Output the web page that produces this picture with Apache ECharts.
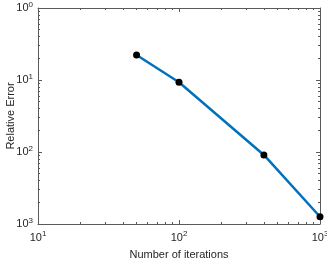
<!DOCTYPE html>
<html><head><meta charset="utf-8">
<script src="https://cdn.jsdelivr.net/npm/echarts@6/dist/echarts.min.js"></script>
<style>html,body{margin:0;padding:0;background:#fff}#c{width:327px;height:261px}</style>
</head><body><div id="c"></div>
<script>
const iterations = [50, 100, 400, 1000];
const relErrors = [0.222, 0.093, 0.0091, 0.00126];
const xMajorTicks = [10, 100, 1000];
const xMinorTicks = [20,30,40,50,60,70,80,90,200,300,400,500,600,700,800,900];
const yMajorTicks = [0.001, 0.01, 0.1, 1];
const yMinorTicks = [0.002,0.003,0.004,0.005,0.006,0.007,0.008,0.009,0.02,0.03,0.04,0.05,0.06,0.07,0.08,0.09,0.2,0.3,0.4,0.5,0.6,0.7,0.8,0.9];
const xTickLabels = {10:'1', 100:'2', 1000:'3'};
const yTickLabels = {1:'0', 0.1:'1', 0.01:'2', 0.001:'3'};
const xName = 'Number of iterations';
const yName = 'Relative Error';

const FONT = 'Liberation Sans';
const TXT = '#262626';
const AX = '#5a5a5a';
const rich = {
  b: {fontSize: 11, fontFamily: FONT, color: TXT},
  s: {fontSize: 8, fontFamily: FONT, color: TXT, padding: [0,0,7,0]}
};
function lbl(map){
  return function(v){
    let key = Object.keys(map).find(k => Math.abs(Math.log10(+k) - Math.log10(v)) < 1e-6);
    return key === undefined ? '' : '{b|10}{s|' + map[key] + '}';
  };
}
function ax(pos, type, opts){
  return Object.assign({
    type: 'log', logBase: 10, position: pos,
    splitLine: {show: false},
    axisLine: {show: false},
    axisLabel: {show: false},
    axisTick: {show: false}
  }, opts);
}
const xr = {min: 10, max: 1000};
const yr = {min: 0.001, max: 1};
const chart = echarts.init(document.getElementById('c'));
chart.setOption({
  animation: false,
  grid: {left: 38, right: 7, top: 8, bottom: 37, containLabel: false, outerBoundsMode: 'none'},
  xAxis: [
    ax('bottom', 'major', Object.assign({}, xr, {
      axisLine: {show: true, onZero: false, lineStyle: {color: AX, width: 1}},
      axisTick: {show: true, inside: true, length: 4, customValues: xMajorTicks, lineStyle: {color: AX}},
      axisLabel: {show: true, customValues: xMajorTicks, formatter: lbl(xTickLabels), rich: rich, margin: 6},
      name: xName, nameLocation: 'middle', nameGap: 25, nameMoveOverlap: false,
      nameTextStyle: {fontSize: 11, fontFamily: FONT, color: TXT}
    })),
    ax('bottom', 'minor', Object.assign({}, xr, {
      axisTick: {show: true, inside: true, length: 2, customValues: xMinorTicks, lineStyle: {color: AX}}
    })),
    ax('top', 'major', Object.assign({}, xr, {
      axisLine: {show: true, onZero: false, lineStyle: {color: AX, width: 1}},
      axisTick: {show: true, inside: true, length: 4, customValues: xMajorTicks, lineStyle: {color: AX}}
    })),
    ax('top', 'minor', Object.assign({}, xr, {
      axisTick: {show: true, inside: true, length: 2, customValues: xMinorTicks, lineStyle: {color: AX}}
    }))
  ],
  yAxis: [
    ax('left', 'major', Object.assign({}, yr, {
      axisLine: {show: true, onZero: false, lineStyle: {color: AX, width: 1}},
      axisTick: {show: true, inside: true, length: 4, customValues: yMajorTicks, lineStyle: {color: AX}},
      axisLabel: {show: true, customValues: yMajorTicks, formatter: lbl(yTickLabels), rich: rich, margin: 5},
      name: yName, nameLocation: 'middle', nameGap: 22, nameRotate: 90, nameMoveOverlap: false,
      nameTextStyle: {fontSize: 11, fontFamily: FONT, color: TXT}
    })),
    ax('left', 'minor', Object.assign({}, yr, {
      axisTick: {show: true, inside: true, length: 2, customValues: yMinorTicks, lineStyle: {color: AX}}
    })),
    ax('right', 'major', Object.assign({}, yr, {
      axisLine: {show: true, onZero: false, lineStyle: {color: AX, width: 1}},
      axisTick: {show: true, inside: true, length: 4, customValues: yMajorTicks, lineStyle: {color: AX}}
    })),
    ax('right', 'minor', Object.assign({}, yr, {
      axisTick: {show: true, inside: true, length: 2, customValues: yMinorTicks, lineStyle: {color: AX}}
    }))
  ],
  series: [{
    type: 'line',
    xAxisIndex: 0, yAxisIndex: 0,
    data: iterations.map((x, i) => [x, relErrors[i]]),
    lineStyle: {color: '#0072BD', width: 2.5},
    symbol: 'circle', symbolSize: 7,
    itemStyle: {color: '#000', borderWidth: 0},
    z: 5
  }]
});
</script></body></html>
